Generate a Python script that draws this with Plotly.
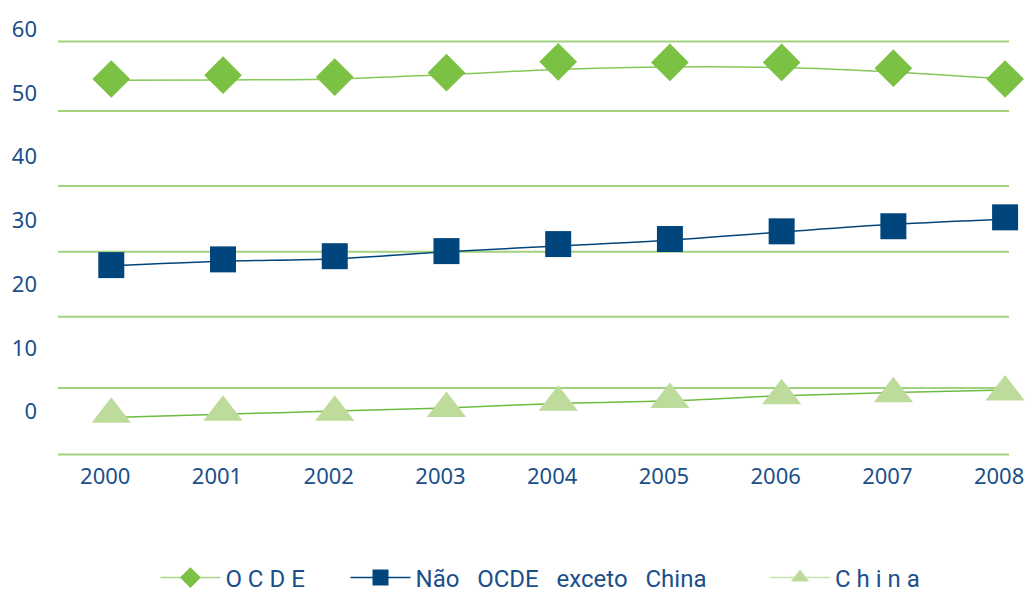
import plotly.graph_objects as go

years = [2000, 2001, 2002, 2003, 2004, 2005, 2006, 2007, 2008]

# marker positions
ocde_pts = [52.2, 52.8, 52.5, 53.2, 54.9, 54.8, 54.8, 53.9, 52.2]
nao_ocde_pts = [23.0, 23.9, 24.4, 25.2, 26.3, 27.1, 28.3, 29.1, 30.5]
china_pts = [-0.4, -0.1, -0.1, 0.5, 1.5, 1.9, 2.5, 2.8, 3.1]

# the connecting lines sit a little off the markers in the original
ocde_line = [52.0, 52.05, 52.2, 52.9, 53.7, 54.1, 54.0, 53.3, 52.2]
nao_ocde_line = [22.9, 23.6, 24.0, 25.1, 26.0, 26.9, 28.2, 29.4, 30.2]
china_line = [-0.9, -0.4, 0.1, 0.6, 1.3, 1.7, 2.5, 3.0, 3.4]

y_ticks = [0, 10, 20, 30, 40, 50, 60]
grid_levels = [-6.7, 3.7, 14.9, 25.1, 35.4, 47.2, 58.1]

NB = '\u00a0'
series_names = ['O C D E'.replace(' ', NB) + NB * 6,
                'Não   OCDE   exceto   China'.replace(' ', NB) + NB * 9,
                'C h i n a'.replace(' ', NB)]

GREEN = '#7bc143'
NAVY = '#00467d'
PALE = '#bddc9c'
TEXT = '#1a4f8a'

fig = go.Figure()

# lines first so the markers sit on top
fig.add_trace(go.Scatter(x=years, y=ocde_line, mode='lines', line=dict(color='#86c95a', width=1.5, shape='spline'),
                         showlegend=False, hoverinfo='skip'))
fig.add_trace(go.Scatter(x=years, y=nao_ocde_line, mode='lines', line=dict(color=NAVY, width=1.5, shape='spline'),
                         showlegend=False, hoverinfo='skip'))
fig.add_trace(go.Scatter(x=years, y=china_line, mode='lines', line=dict(color='#6dbb3f', width=1.5, shape='spline'),
                         showlegend=False, hoverinfo='skip'))

fig.add_trace(go.Scatter(x=years, y=ocde_pts, mode='markers', name=series_names[0], showlegend=False,
                         marker=dict(symbol='diamond', size=29, color=GREEN), cliponaxis=False))
fig.add_trace(go.Scatter(x=years, y=nao_ocde_pts, mode='markers', name=series_names[1], showlegend=False,
                         marker=dict(symbol='square', size=26, color=NAVY), cliponaxis=False))
fig.add_trace(go.Scatter(x=years, y=china_pts, mode='markers', name=series_names[2], showlegend=False,
                         marker=dict(symbol='triangle-up', size=34, color=PALE), cliponaxis=False))

# legend entries (line + marker together)
legend_styles = [('#a9d78a', GREEN, 'diamond'), (NAVY, NAVY, 'square'), ('#c8e3ab', PALE, 'triangle-up')]
for name, (lc, mc, sym) in zip(series_names, legend_styles):
    fig.add_trace(go.Scatter(x=[None], y=[None], mode='lines+markers', name=name,
                             line=dict(color=lc, width=1.5), marker=dict(symbol=sym, size=16, color=mc)))

for g in grid_levels:
    fig.add_shape(type='line', xref='paper', x0=0, x1=1, yref='y', y0=g, y1=g,
                  line=dict(color='#a3d27f', width=2), layer='below')

fig.update_layout(
    width=1036, height=594,
    margin=dict(l=57, r=16, t=20, b=138),
    paper_bgcolor='white', plot_bgcolor='white',
    font=dict(family='Noto Sans, Open Sans, sans-serif', size=22, color=TEXT),
    xaxis=dict(range=[1999.523, 2008.035], tickvals=years, showgrid=False, zeroline=False, showline=False,
               ticks='', ticklabelstandoff=5, ticklabelshift=-6),
    yaxis=dict(range=[-6.95, 61.46], tickvals=y_ticks, showgrid=False, zeroline=False, showline=False,
               ticks='', ticklabelstandoff=20),
    legend=dict(orientation='h', xref='container', yref='container', x=0.15, y=0.027,
                xanchor='left', yanchor='middle', bgcolor='rgba(0,0,0,0)',
                font=dict(family='Roboto, sans-serif', size=24, color=TEXT),
                itemwidth=60, tracegroupgap=0),
)

# the page's default body margin would push the figure 8px off
fig.write_html("out.html", config={'displayModeBar': False},
               post_script="document.body.style.margin='0';")
